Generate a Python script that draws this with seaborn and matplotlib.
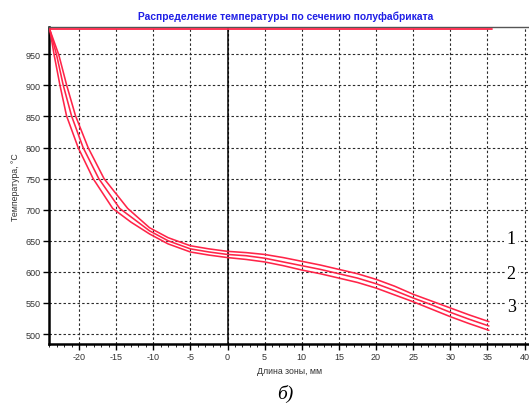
import matplotlib
matplotlib.use("Agg")
import matplotlib.pyplot as plt
import numpy as np
import pandas as pd
import seaborn as sns

# Temperature profiles across the semi-finished product section (x in mm, T in °C)
x_curve1 = [-23.92, -22.72, -21.68, -20.47, -18.78, -16.63, -13.44, -10.5, -8.0, -5.0, -2.5,
            0.0, 2.5, 5.0, 7.5, 10.0, 12.5, 15.0, 17.5, 20.0, 22.5, 25.0, 27.5, 30.0, 32.5, 35.2]
t_curve1 = [989, 949, 901, 851, 800, 750, 702, 671, 655, 642, 637,
            633, 631, 628, 623, 617, 611, 604, 597, 588, 577, 564, 553, 542, 531, 520]

x_curve2 = [-23.92, -23.02, -22.14, -21.01, -19.45, -17.34, -14.52, -12.5, -10.5, -8.0, -5.0, -2.5,
            0.0, 2.5, 5.0, 7.5, 10.0, 12.5, 15.0, 17.5, 20.0, 22.5, 25.0, 27.5, 30.0, 32.5, 35.2]
t_curve2 = [989, 949, 901, 851, 800, 750, 702, 684, 666, 650, 637, 632,
            628, 626, 622, 616, 610, 604, 597, 590, 581, 570, 558, 547, 535, 524, 513]

x_curve3 = [-23.92, -23.35, -22.58, -21.68, -20.12, -18.10, -15.46, -13.0, -10.5, -8.0, -5.0, -2.5,
            0.0, 2.5, 5.0, 7.5, 10.0, 12.5, 15.0, 17.5, 20.0, 22.5, 25.0, 27.5, 30.0, 32.5, 35.2]
t_curve3 = [989, 949, 901, 851, 800, 750, 702, 680, 661, 645, 632, 627,
            623, 620, 616, 610, 603, 597, 590, 583, 574, 563, 552, 540, 528, 517, 506]

# Furnace temperature level
furnace_x = [-24.0, 35.6]
furnace_t = [990, 990]

x_ticks = [-20, -15, -10, -5, 0, 5, 10, 15, 20, 25, 30, 35, 40]
y_ticks = [500, 550, 600, 650, 700, 750, 800, 850, 900, 950]
curve_labels = ["1", "2", "3"]
curve_label_t = [653, 598, 545]

df = pd.concat([
    pd.DataFrame({"x": x_curve1, "t": t_curve1, "curve": "1"}),
    pd.DataFrame({"x": x_curve2, "t": t_curve2, "curve": "2"}),
    pd.DataFrame({"x": x_curve3, "t": t_curve3, "curve": "3"}),
], ignore_index=True)

sns.set_theme(style="white")
plt.rcParams["font.family"] = ["Liberation Sans", "DejaVu Sans"]
plt.rcParams["axes.unicode_minus"] = False

fig = plt.figure(figsize=(5.29, 4.10), dpi=100)
ax = fig.add_axes([0.0932, 0.1585, 0.9068, 0.772])

ax.set_xlim(-24.0, 40.6)
ax.set_ylim(484, 993)

# grid
for xv in x_ticks:
    ax.axvline(xv, color="#2a2a2a", lw=0.8, ls=(0, (2.2, 2.0)), zorder=1)
for yv in y_ticks:
    ax.axhline(yv, color="#2a2a2a", lw=0.8, ls=(0, (2.2, 2.0)), zorder=1)
ax.axvline(0, color="black", lw=1.1, zorder=2)

sns.lineplot(data=df, x="x", y="t", hue="curve", sort=False, estimator=None,
             palette=["#ff2448", "#ff2448", "#ff2448"], lw=1.15, legend=False,
             ax=ax, zorder=3)
sns.lineplot(x=furnace_x, y=furnace_t, color="#ff2448", lw=1.3, ax=ax, zorder=3)

ax.set_xticks(x_ticks)
ax.set_yticks(y_ticks)
ax.set_xticks(np.arange(-24, 41, 1), minor=True)
ax.tick_params(axis="both", which="major", direction="out", length=4, width=1,
               color="black", labelsize=6.5, labelcolor="#333333", pad=2)
ax.tick_params(axis="x", which="minor", direction="out", length=2, width=0.6,
               color="black", bottom=True)
ax.tick_params(axis="x", which="major", bottom=True)
ax.tick_params(axis="y", which="major", left=True)

for side in ["left", "bottom"]:
    ax.spines[side].set_color("black")
    ax.spines[side].set_linewidth(1.8)
ax.spines["top"].set_color("#555555")
ax.spines["top"].set_linewidth(1.0)
ax.spines["right"].set_visible(False)

ax.set_xlabel("Длина зоны, мм", fontsize=6.3, color="#333333", labelpad=3)
ax.set_ylabel("Температура, °С", fontsize=6.3, color="#333333", labelpad=4)

fig.text(0.54, 0.958, "Распределение температуры по сечению полуфабриката",
         ha="center", va="center", color="#1f1fe6", fontsize=7.4, fontweight="bold")

for lab, tv in zip(curve_labels, curve_label_t):
    ax.text(38.2, tv, lab, ha="center", va="center", fontsize=13,
            family=["Liberation Serif", "DejaVu Serif"], color="black",
            bbox=dict(facecolor="white", edgecolor="none", pad=1.5), zorder=5)

fig.text(0.54, 0.04, "б)", ha="center", va="center", fontsize=14,
         family=["Liberation Serif", "DejaVu Serif"], style="italic", color="black")

fig.savefig("out.png", dpi=100, facecolor="white")
